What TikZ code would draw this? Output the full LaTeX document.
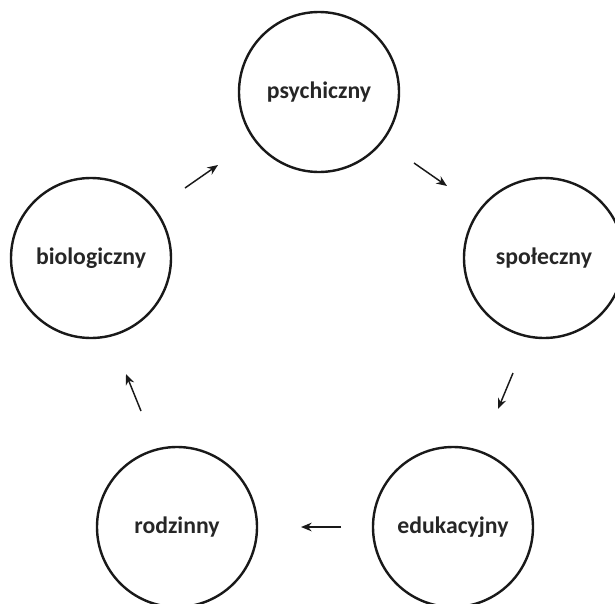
\documentclass[tikz,border=0pt]{standalone}
\usepackage{fontspec}
\setmainfont{Carlito}
\usetikzlibrary{arrows.meta}
\begin{document}
\begin{tikzpicture}[x=0.75pt,y=-0.75pt,
  ring/.style={draw=black!90, line width=1.8pt, circle, minimum size=120pt, inner sep=0pt, outer sep=0pt,
    font=\fontsize{17.8}{20}\selectfont\bfseries, text=black!85},
  flow/.style={line width=1.1pt, draw=black!90, -{Stealth[length=8pt,width=6.5pt]}}]
\useasboundingbox (0,0) rectangle (615,604);
\node[ring] (psy) at (319,92) {psychiczny};
\node[ring] (bio) at (91,258) {biologiczny};
\node[ring] (spo) at (544,258) {społeczny};
\node[ring] (edu) at (453,527) {edukacyjny};
\node[ring] (rod) at (177,527) {rodzinny};
\coordinate (a1s) at (185,188); \coordinate (a1e) at (218,165);
\coordinate (a2s) at (414,163); \coordinate (a2e) at (447,186);
\coordinate (a3s) at (513,373); \coordinate (a3e) at (498,409);
\coordinate (a4s) at (341,527); \coordinate (a4e) at (301,527);
\coordinate (a5s) at (141,411); \coordinate (a5e) at (126,374);
\draw[flow] (a1s) -- (a1e);
\draw[flow] (a2s) -- (a2e);
\draw[flow] (a3s) -- (a3e);
\draw[flow] (a4s) -- (a4e);
\draw[flow] (a5s) -- (a5e);
\end{tikzpicture}
\end{document}
